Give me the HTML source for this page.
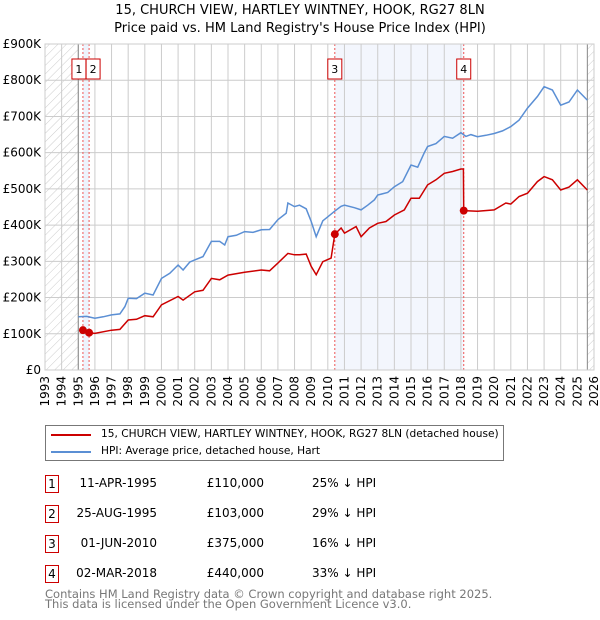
<!DOCTYPE html>
<html><head><meta charset="utf-8"><style>
body{margin:0;background:#fff;font-family:"DejaVu Sans","Liberation Sans",sans-serif;}
#wrap{position:relative;width:600px;height:620px;overflow:hidden}
.t{position:absolute;white-space:nowrap;font-size:12px;color:#000}
.box{position:absolute;width:20px;height:18px;border:1px solid #c00;box-sizing:border-box;left:45px;font-size:12px;text-align:center;line-height:17px;background:#fff}
</style></head><body><div id="wrap">
<div class="t" style="left:0;width:600px;text-align:center;top:3px;font-size:13px">15, CHURCH VIEW, HARTLEY WINTNEY, HOOK, RG27 8LN</div>
<div class="t" style="left:0;width:600px;text-align:center;top:21px;font-size:13px">Price paid vs. HM Land Registry's House Price Index (HPI)</div>
<svg id="chart" width="600" height="420" style="position:absolute;left:0;top:0"></svg>
<div style="position:absolute;left:45px;top:425px;width:459px;height:36px;border:1px solid #777;box-sizing:border-box">
 <div style="position:absolute;left:5px;top:8px;width:40px;height:2px;background:#c00"></div>
 <div class="t" style="left:55px;top:2px;font-size:10.6px">15, CHURCH VIEW, HARTLEY WINTNEY, HOOK, RG27 8LN (detached house)</div>
 <div style="position:absolute;left:5px;top:25px;width:40px;height:2px;background:#5b8fd4"></div>
 <div class="t" style="left:55px;top:19px;font-size:10.6px">HPI: Average price, detached house, Hart</div>
</div>
<div id="tbl"></div>
<div class="t" style="left:45px;top:589px;color:#777;font-size:11.5px;line-height:10px">Contains HM Land Registry data © Crown copyright and database right 2025.<br>This data is licensed under the Open Government Licence v3.0.</div>
</div>
<script>
const hpiYears=[1995.0,1995.5,1996.0,1996.5,1997.0,1997.5,1997.8,1998.0,1998.5,1999.0,1999.5,2000.0,2000.5,2001.0,2001.3,2001.7,2002.0,2002.5,2003.0,2003.5,2003.8,2004.0,2004.5,2005.0,2005.5,2006.0,2006.5,2007.0,2007.5,2007.6,2008.0,2008.3,2008.7,2009.0,2009.3,2009.7,2010.0,2010.4,2010.8,2011.0,2011.6,2012.0,2012.4,2012.8,2013.0,2013.6,2014.0,2014.5,2015.0,2015.4,2015.8,2016.0,2016.5,2017.0,2017.5,2018.0,2018.3,2018.6,2019.0,2019.5,2020.0,2020.5,2021.0,2021.5,2022.0,2022.6,2023.0,2023.5,2024.0,2024.5,2025.0,2025.6];
const hpiValues=[147,148,143,147,152,155,175,198,197,212,207,253,267,290,276,298,304,313,355,355,345,368,372,382,380,387,388,415,433,461,451,455,445,410,368,412,423,438,452,455,448,442,455,470,483,490,506,520,566,560,600,617,625,645,640,655,645,650,644,648,653,660,672,690,723,755,782,773,731,740,773,745];
const ppYears=[1995.28,1995.5,1995.65,1996.0,1997.0,1997.5,1998.0,1998.5,1999.0,1999.5,2000.0,2001.0,2001.3,2002.0,2002.5,2003.0,2003.5,2004.0,2005.0,2006.0,2006.5,2007.0,2007.6,2008.0,2008.3,2008.7,2009.0,2009.3,2009.7,2010.2,2010.42,2010.8,2011.0,2011.7,2012.0,2012.5,2013.0,2013.5,2014.0,2014.6,2015.0,2015.5,2016.0,2016.5,2017.0,2017.5,2018.0,2018.15,2018.17,2019.0,2020.0,2020.7,2021.0,2021.5,2022.0,2022.6,2023.0,2023.5,2024.0,2024.5,2025.0,2025.6];
const ppValues=[110,105,103,101,110,112,138,140,150,147,180,203,193,216,220,253,249,262,270,276,274,295,322,318,318,320,286,263,299,309,375,392,378,396,368,392,405,410,428,442,474,474,511,525,543,548,555,555,440,438,442,461,458,479,488,520,534,525,497,505,525,497];
const saleYears=[1995.28,1995.65,2010.42,2018.17];
const saleValues=[110,103,375,440];
const saleLabels=["1","2","3","4"];
const saleDates=["11-APR-1995","25-AUG-1995","01-JUN-2010","02-MAR-2018"];
const salePrices=["£110,000","£103,000","£375,000","£440,000"];
const salePct=["25% ↓ HPI","29% ↓ HPI","16% ↓ HPI","33% ↓ HPI"];
const yTicks=[0,100,200,300,400,500,600,700,800,900];
const yTickLabels=["£0","£100K","£200K","£300K","£400K","£500K","£600K","£700K","£800K","£900K"];
const xTicks=[1993,1994,1995,1996,1997,1998,1999,2000,2001,2002,2003,2004,2005,2006,2007,2008,2009,2010,2011,2012,2013,2014,2015,2016,2017,2018,2019,2020,2021,2022,2023,2024,2025,2026];

const L=45,R=594,T=44,B=370,X0=1993,X1=2026,YMAX=900,dataEnd=2025.6;
const X=v=>L+(v-X0)/(X1-X0)*(R-L);
const Y=v=>B-v/YMAX*(B-T);
const NS="http://www.w3.org/2000/svg";
const svg=document.getElementById('chart');
function mk(tag,at,parent){const e=document.createElementNS(NS,tag);for(const k in at)e.setAttribute(k,at[k]);(parent||svg).appendChild(e);return e;}
const defs=mk('defs',{});
const pat=mk('pattern',{id:'hatch',width:6,height:6,patternUnits:'userSpaceOnUse',patternTransform:'rotate(45)'},defs);
mk('line',{x1:0,y1:0,x2:0,y2:6,stroke:'#ccc','stroke-width':1},pat);
let h1=mk('rect',{x:L,y:T,width:X(1995)-L,height:B-T,fill:'url(#hatch)'});

let h2=mk('rect',{x:X(dataEnd),y:T,width:R-X(dataEnd),height:B-T,fill:'url(#hatch)'});

let b1=mk('rect',{x:X(saleYears[0]),y:T,width:X(saleYears[1])-X(saleYears[0]),height:B-T,fill:'#eef3fc'});

let b2=mk('rect',{x:X(saleYears[2]),y:T,width:X(saleYears[3])-X(saleYears[2]),height:B-T,fill:'#f3f6fd'});

xTicks.forEach((t,i)=>{
 let g=mk('line',{x1:X(t),x2:X(t),y1:T,y2:B,stroke:'#ccc','stroke-width':1});
 
 let tx=mk('text',{x:0,y:0,transform:`translate(${X(t)+4},${B+6}) rotate(-90)`,'text-anchor':'end','font-size':12,'font-family':'DejaVu Sans, sans-serif'});
 tx.textContent=t;
});
yTicks.forEach((t,i)=>{
 let g=mk('line',{x1:L,x2:R,y1:Y(t),y2:Y(t),stroke:'#ccc','stroke-width':1});
 
 let tx=mk('text',{x:L-4,y:Y(t)+4,'text-anchor':'end','font-size':12,'font-family':'DejaVu Sans, sans-serif'});
 tx.textContent=yTickLabels[i];
});
let vb1=mk('line',{x1:X(1995),x2:X(1995),y1:T,y2:B,stroke:'#888','stroke-width':1});

let vb2=mk('line',{x1:X(dataEnd),x2:X(dataEnd),y1:T,y2:B,stroke:'#888','stroke-width':1});

saleYears.forEach((s,i)=>{
 let l=mk('line',{x1:X(s),x2:X(s),y1:T,y2:B,stroke:'#e55','stroke-width':1,'stroke-dasharray':'2,2'});
 
});
const path=(xs,vs)=>xs.map((x,i)=>(i?'L':'M')+X(x).toFixed(1)+','+Y(vs[i]).toFixed(1)).join('');
let hp=mk('path',{d:path(hpiYears,hpiValues),fill:'none',stroke:'#5b8fd4','stroke-width':1.5});

let pp=mk('path',{d:path(ppYears,ppValues),fill:'none',stroke:'#c00','stroke-width':1.5});

saleYears.forEach((s,i)=>{
 let c=mk('circle',{cx:X(s),cy:Y(saleValues[i]),r:4,fill:'#c00'});
 
});
saleYears.forEach((s,i)=>{
 const bx=X(s)-(i==0?11:i==1?3:7);
 let r=mk('rect',{x:bx,y:59,width:14,height:20,fill:'#fff',stroke:'#c00','stroke-width':1});
 
 let tx=mk('text',{x:bx+7,y:73,'text-anchor':'middle','font-size':11,'font-family':'DejaVu Sans, sans-serif'});
 tx.textContent=saleLabels[i];
});
let fr=mk('rect',{x:L,y:T,width:R-L,height:B-T,fill:'none',stroke:'#ccc','stroke-width':1});

const tbl=document.getElementById('tbl');
saleLabels.forEach((lab,i)=>{
 const top=475+i*30;
 const b=document.createElement('div');b.className='box';b.style.top=top+'px';b.style.width='14px';b.textContent=lab;
 
 
 tbl.appendChild(b);
 const mkT=(txt,style,name)=>{const d=document.createElement('div');d.className='t';d.style.cssText=style+';top:'+(top+1)+'px';d.textContent=txt;
  
  
  tbl.appendChild(d);};
 mkT(saleDates[i],'right:443px','table-date');
 mkT(salePrices[i],'right:336px','table-price');
 mkT(salePct[i],'left:312px','table-hpi-diff');
});
</script></body></html>
